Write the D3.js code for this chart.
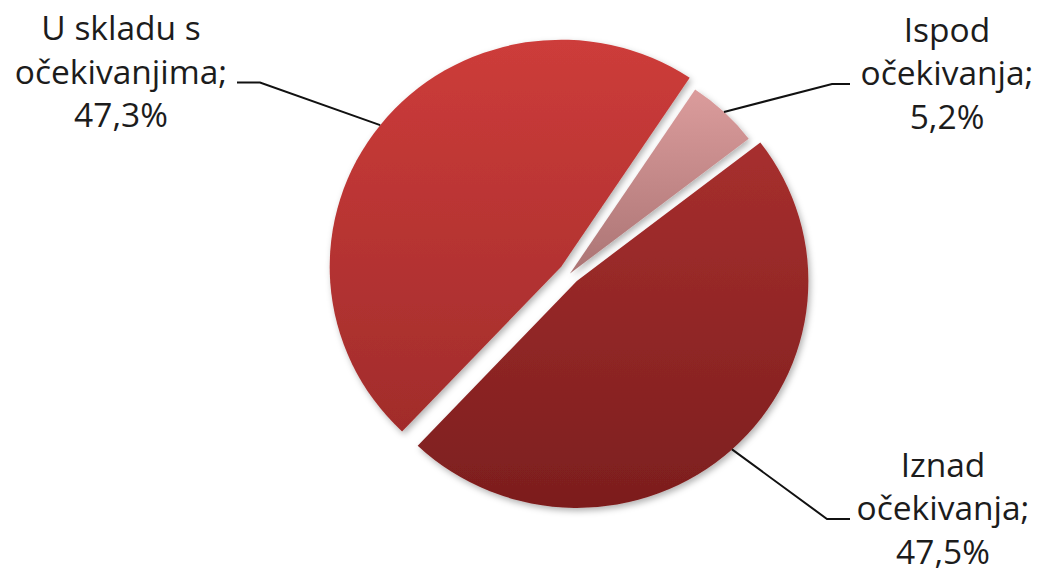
<!DOCTYPE html>
<html>
<head>
<meta charset="utf-8">
<script src="https://cdn.jsdelivr.net/npm/d3@7"></script>
<style>
body { margin: 0; background: #fff; }
.label { font-family: "Open Sans", sans-serif; font-size: 33.5px; fill: #1c1c1c; }
.leader { fill: none; stroke: #111; stroke-width: 2px; }
</style>
</head>
<body>
<svg id="chart" width="1040" height="570"></svg>
<script>
// data, in the order the slices run clockwise from the Ispod slice
var categories = ["Ispod očekivanja", "Iznad očekivanja", "U skladu s očekivanjima"];
var shares = [5.2, 47.5, 47.3];
var labelLines = [["Ispod", "očekivanja;"], ["Iznad", "očekivanja;"], ["U skladu s", "očekivanjima;"]];

var svg = d3.select("#chart"),
    cx = 570,
    cy = 273.5,
    radius = 227,
    stretch = 1.02,
    lineGap = 43.5,
    startDeg = 33.7;

// look of each slice: gradient top / bottom, explode distance, radius factor
var looks = [
    {top: "#db9c9c", bottom: "#ab7474", explode: 0, rf: 0.974},
    {top: "#a72f2e", bottom: "#7c1e1e", explode: 10, rf: 1},
    {top: "#cd3c3a", bottom: "#a12c2b", explode: 11, rf: 1}
];

// where each label sits, relative to the pie centre (screen px)
var spots = [
    {tx: 377, ty: -188.5, knee: 262, end: 280},
    {tx: 373, ty: 246.5, knee: 257, end: 280},
    {tx: -449, ty: -190, knee: -310, end: -333}
];

var defs = svg.append("defs");

defs.append("filter")
    .attr("id", "shadow")
    .attr("x", "-20%").attr("y", "-20%")
    .attr("width", "140%").attr("height", "140%")
    .append("feDropShadow")
    .attr("dx", 2).attr("dy", 3)
    .attr("stdDeviation", 3)
    .attr("flood-color", "#000")
    .attr("flood-opacity", 0.3);

looks.forEach(function(l, i) {
    var g = defs.append("linearGradient")
        .attr("id", "fill" + i)
        .attr("x1", 0).attr("y1", 0)
        .attr("x2", 0).attr("y2", 1);
    g.append("stop").attr("offset", "0%").attr("stop-color", l.top);
    g.append("stop").attr("offset", "100%").attr("stop-color", l.bottom);
});

var start = startDeg * Math.PI / 180;
var pie = d3.pie()
    .sort(null)
    .startAngle(start)
    .endAngle(start + 2 * Math.PI);

var arcs = pie(shares);

var arc = d3.arc()
    .innerRadius(0)
    .outerRadius(function(d) { return radius * looks[d.index].rf; });

function mid(d) { return (d.startAngle + d.endAngle) / 2; }

var pieG = svg.append("g")
    .attr("transform", "translate(" + cx + "," + cy + ") scale(" + stretch + ",1)");

pieG.selectAll("path.slice")
    .data(arcs)
    .enter().append("path")
    .attr("class", "slice")
    .attr("transform", function(d) {
        var e = looks[d.index].explode, a = mid(d);
        return "translate(" + (e * Math.sin(a)) + "," + (-e * Math.cos(a)) + ")";
    })
    .attr("d", arc)
    .attr("fill", function(d) { return "url(#fill" + d.index + ")"; })
    .attr("filter", "url(#shadow)");

// labels and leader lines, drawn unstretched
var labG = svg.append("g")
    .attr("transform", "translate(" + cx + "," + cy + ")");

var pct = function(v) { return d3.format(".1f")(v).replace(".", ",") + "%"; };

arcs.forEach(function(d) {
    var i = d.index, a = mid(d), l = looks[i], s = spots[i];
    var r = radius * l.rf + l.explode;
    var x0 = r * Math.sin(a) * stretch,
        y0 = -r * Math.cos(a);

    labG.append("path")
        .attr("class", "leader")
        .attr("d", d3.line()([[x0, y0], [s.knee, s.ty - 1], [s.end, s.ty - 1]]));

    var t = labG.append("text")
        .attr("class", "label")
        .attr("text-anchor", "middle")
        .attr("x", s.tx)
        .attr("y", s.ty - lineGap);
    var lines = labelLines[i].concat([pct(shares[i])]);
    lines.forEach(function(str, k) {
        t.append("tspan")
            .attr("x", s.tx)
            .attr("dy", k === 0 ? 0 : lineGap)
            .text(str);
    });
    t.append("title").text(categories[i]);
});
</script>
</body>
</html>
